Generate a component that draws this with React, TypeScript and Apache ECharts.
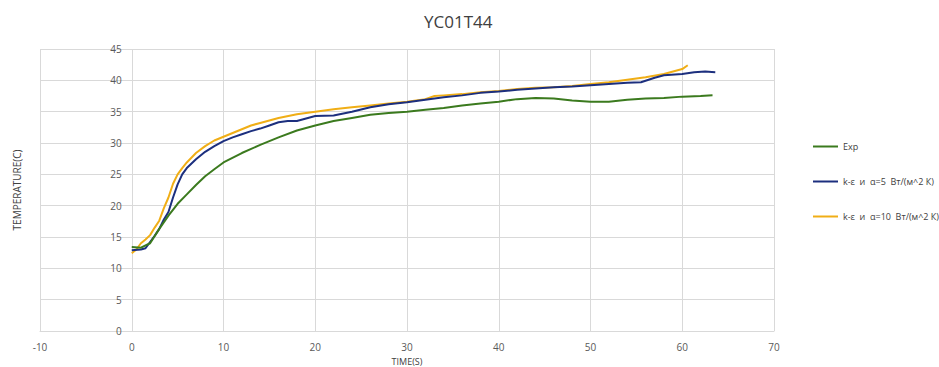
import React, { useEffect, useRef } from "react";
import * as echarts from "echarts";

const titleText = "YC01T44";
const seriesNames = ["Exp", "k-ε  и  α=5  Вт/(м^2 К)", "k-ε  и  α=10  Вт/(м^2 К)"];

const expTime = [0, 1, 2, 3, 4, 5, 6, 7, 8, 9, 10, 12, 14, 16, 18, 20, 22, 24, 26, 28, 30, 32, 34, 36, 38, 40, 42, 44, 46, 48, 50, 52, 54, 56, 58, 60, 62, 63.3];
const expTemp = [13.4, 13.3, 14.0, 16.3, 18.4, 20.3, 21.8, 23.3, 24.7, 25.8, 26.9, 28.4, 29.7, 30.9, 32.0, 32.8, 33.5, 34.0, 34.5, 34.8, 35.0, 35.3, 35.6, 36.0, 36.3, 36.6, 37.0, 37.2, 37.1, 36.8, 36.6, 36.6, 36.9, 37.1, 37.2, 37.4, 37.5, 37.6];

const a5Time = [0, 1, 1.5, 2, 2.5, 3, 3.5, 4, 4.5, 5, 5.5, 6, 7, 8, 9, 10, 11, 12, 13, 14, 15, 16, 17, 18, 19, 20, 22, 24, 26, 28, 30, 32, 34, 36, 38, 40, 42, 44, 46, 48, 50, 52, 54, 55.5, 57, 58, 60, 61.3, 62.5, 63.6];
const a5Temp = [12.9, 13.0, 13.2, 14.2, 15.2, 16.3, 17.8, 19.0, 21.3, 23.4, 25.0, 26.0, 27.4, 28.6, 29.5, 30.3, 30.9, 31.4, 31.9, 32.3, 32.8, 33.3, 33.5, 33.5, 33.9, 34.3, 34.4, 35.0, 35.7, 36.2, 36.5, 36.9, 37.3, 37.6, 38.0, 38.2, 38.5, 38.7, 38.9, 39.0, 39.2, 39.4, 39.6, 39.7, 40.4, 40.8, 41.0, 41.3, 41.4, 41.3];

const a10Time = [0, 0.5, 1, 1.5, 2, 2.5, 3, 3.5, 4, 4.5, 5, 5.5, 6, 7, 8, 9, 10, 11, 12, 13, 14, 16, 18, 20, 22, 24, 26, 28, 30, 32, 33, 34, 36, 38, 40, 42, 44, 46, 48, 50, 52, 54, 56, 58, 60, 60.6];
const a10Temp = [12.4, 13.0, 14.0, 14.6, 15.3, 16.5, 17.6, 19.6, 21.3, 23.5, 25.0, 26.0, 26.9, 28.4, 29.5, 30.4, 31.0, 31.6, 32.2, 32.8, 33.2, 34.0, 34.6, 35.0, 35.4, 35.7, 36.0, 36.3, 36.6, 37.0, 37.5, 37.6, 37.8, 38.1, 38.3, 38.6, 38.8, 38.9, 39.1, 39.4, 39.7, 40.1, 40.5, 41.0, 41.8, 42.4];

const colors = ["#3b7a1e", "#1c2f7e", "#f0ae16"];

const pair = (t: number[], v: number[]) => t.map((x, i) => [x, v[i]]);

export default function App() {
  const ref = useRef<HTMLDivElement>(null);
  useEffect(() => {
    document.body.style.margin = "0";
    const chart = echarts.init(ref.current!, null, { renderer: "svg" });
    const font = "'Open Sans', 'DejaVu Sans', sans-serif";
    const gridLeft = 40;
    const gridRight = 165;
    const xMin = -10;
    const xMax = 70;
    const plotWidth = 939 - gridLeft - gridRight;
    const zeroOffset = (plotWidth * (0 - xMin)) / (xMax - xMin);
    const mk = (i: number, data: number[][]) => ({
      name: seriesNames[i],
      type: "line",
      data,
      showSymbol: false,
      symbol: "none",
      lineStyle: { color: colors[i], width: 2 },
      itemStyle: { color: colors[i] },
      z: 3 - i,
    });
    chart.setOption({
      animation: false,
      textStyle: { fontFamily: font },
      title: {
        text: titleText,
        left: 419,
        top: 8,
        textStyle: { fontSize: 17, fontWeight: "normal", color: "#404040", fontFamily: font },
      },
      legend: {
        orient: "vertical",
        left: 808,
        top: 137,
        itemGap: 26,
        itemWidth: 25,
        itemHeight: 2,
        icon: "rect",
        textStyle: { fontSize: 9, color: "#404040" },
        data: seriesNames,
      },
      grid: { left: gridLeft, right: gridRight, top: 49, bottom: 36, containLabel: false, outerBoundsMode: "none" },
      xAxis: {
        type: "value",
        min: xMin,
        max: xMax,
        interval: 10,
        name: "TIME(S)",
        nameLocation: "middle",
        nameGap: 24,
        nameTextStyle: { fontSize: 9, color: "#404040" },
        axisLine: { show: true, lineStyle: { color: "#d9d9d9" } },
        axisTick: { show: false },
        axisLabel: { fontSize: 10, color: "#595959", margin: 11 },
        splitLine: { show: true, lineStyle: { color: "#d9d9d9" } },
      },
      yAxis: {
        type: "value",
        min: 0,
        max: 45,
        interval: 5,
        offset: -zeroOffset,
        name: "TEMPERATURE(C)",
        nameLocation: "middle",
        nameGap: 110,
        nameTextStyle: { fontSize: 10, color: "#404040" },
        axisLine: { show: false, onZero: false },
        axisTick: { show: false },
        axisLabel: { fontSize: 10, color: "#595959", margin: 10 },
        splitLine: { show: true, lineStyle: { color: "#d9d9d9" } },
      },
      series: [
        mk(0, pair(expTime, expTemp)),
        mk(1, pair(a5Time, a5Temp)),
        mk(2, pair(a10Time, a10Temp)),
      ],
    });
    return () => chart.dispose();
  }, []);
  return <div ref={ref} style={{ width: 939, height: 367 }} />;
}
